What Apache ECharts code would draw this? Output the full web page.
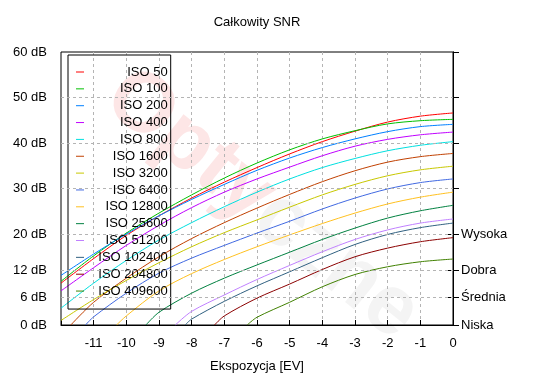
<!DOCTYPE html>
<html><head><meta charset="utf-8">
<script src="https://cdn.jsdelivr.net/npm/echarts@6/dist/echarts.min.js"></script>
<style>html,body{margin:0;padding:0;background:#fff}#c{width:550px;height:380px}</style>
</head><body><div id="c"></div>
<script>
// ---- data (EV, dB) ----
const isoNames = ['ISO 50','ISO 100','ISO 200','ISO 400','ISO 800','ISO 1600','ISO 3200','ISO 6400','ISO 12800','ISO 25600','ISO 51200','ISO 102400','ISO 204800','ISO 409600'];
const isoColors = ['#ff0000','#00c000','#0080ff','#c000ff','#00e0e0','#c04000','#c8c800','#4169e1','#ffc020','#008040','#c080ff','#306080','#8b0000','#408000'];
const iso50     = [[-12,9.2],[-11,14.6],[-10,19.7],[-9,24.0],[-8,27.9],[-7,31.4],[-6,34.6],[-5,37.6],[-4,40.3],[-3,42.6],[-2,44.6],[-1,45.9],[0,46.6]];
const iso100    = [[-12,9.6],[-11,15.2],[-10,20.2],[-9,24.6],[-8,28.6],[-7,32.3],[-6,35.6],[-5,38.5],[-4,40.9],[-3,42.7],[-2,44.2],[-1,44.9],[0,45.2]];
const iso200    = [[-12,10.9],[-11,15.6],[-10,20.0],[-9,24.0],[-8,27.6],[-7,30.9],[-6,34.0],[-5,36.7],[-4,39.0],[-3,40.9],[-2,42.5],[-1,43.6],[0,44.1]];
const iso400    = [[-12,7.5],[-11,12.6],[-10,17.5],[-9,21.9],[-8,25.8],[-7,29.2],[-6,32.1],[-5,34.7],[-4,37.2],[-3,39.3],[-2,40.8],[-1,41.8],[0,42.4]];
const iso800    = [[-12,3.7],[-11,9.2],[-10,14.2],[-9,18.7],[-8,22.5],[-7,26.0],[-6,29.2],[-5,32.1],[-4,34.6],[-3,36.6],[-2,38.3],[-1,39.5],[0,40.3]];
const iso1600   = [[-11.7,0],[-11,5.0],[-10,10.3],[-9,15.0],[-8,19.0],[-7,22.5],[-6,25.7],[-5,28.7],[-4,31.5],[-3,33.9],[-2,35.8],[-1,37.0],[0,37.7]];
const iso3200   = [[-12,1.0],[-11,5.6],[-10,9.8],[-9,13.7],[-8,17.2],[-7,20.3],[-6,23.1],[-5,25.9],[-4,28.6],[-3,30.9],[-2,32.8],[-1,34.1],[0,34.9]];
const iso6400   = [[-11.25,0],[-11,1.8],[-10,7.0],[-9,11.4],[-8,14.7],[-7,17.5],[-6,20.2],[-5,22.8],[-4,25.5],[-3,27.9],[-2,29.9],[-1,31.3],[0,32.1]];
const iso12800  = [[-10.3,0],[-10,2.0],[-9,7.5],[-8,11.3],[-7,14.4],[-6,17.2],[-5,19.8],[-4,22.3],[-3,24.6],[-2,26.6],[-1,28.1],[0,29.2]];
const iso25600  = [[-9.4,0],[-9,2.8],[-8,7.0],[-7,10.3],[-6,13.2],[-5,16.0],[-4,18.8],[-3,21.3],[-2,23.5],[-1,25.1],[0,26.3]];
const iso51200  = [[-8.5,0],[-8,3.0],[-7,6.6],[-6,10.0],[-5,13.1],[-4,16.1],[-3,18.8],[-2,20.9],[-1,22.4],[0,23.3]];
const iso102400 = [[-8.2,0],[-8,1.3],[-7,5.2],[-6,8.6],[-5,11.7],[-4,14.8],[-3,17.7],[-2,19.9],[-1,21.4],[0,22.4]];
const iso204800 = [[-7.3,0],[-7,2.0],[-6,5.9],[-5,9.0],[-4,12.2],[-3,15.0],[-2,16.9],[-1,18.3],[0,19.2]];
const iso409600 = [[-6.3,0],[-6,1.7],[-5,5.0],[-4,8.4],[-3,11.1],[-2,12.8],[-1,13.9],[0,14.5]];
const yTicks = [0,6,12,20,30,40,50,60];
const yGridLines = [6,12,20,30,40,50];
const qualityValues = [0,6,12,20];
const qualityLabels = ['Niska','Średnia','Dobra','Wysoka'];
const titleText = 'Całkowity SNR';
const xName = 'Ekspozycja [EV]';
const watermarkParts = ['Opty','czne'];

const allData = [iso50,iso100,iso200,iso400,iso800,iso1600,iso3200,iso6400,iso12800,iso25600,iso51200,iso102400,iso204800,iso409600];
const FONT = 'Liberation Sans, Arial, sans-serif';

const chart = echarts.init(document.getElementById('c'), null, {renderer:'canvas'});
const series = allData.map((d,i)=>({
  name: isoNames[i], type:'line', data:d, symbol:'none', showSymbol:false,
  smooth:0.3, clip:true, z:3,
  lineStyle:{width:1,color:isoColors[i]}, itemStyle:{color:isoColors[i]}
}));
series.unshift({
  name:'grid', type:'line', data:[], silent:true, z:1,
  markLine:{silent:true, symbol:'none', label:{show:false}, animation:false,
    lineStyle:{color:'#b4b4b4', type:[3,3], width:1},
    data: yGridLines.map(v=>({yAxis:v}))}
});

chart.setOption({
  animation:false,
  backgroundColor:'#fff',
  grid:{left:61,right:97,top:52,bottom:55,show:true,borderColor:'#000',borderWidth:1,backgroundColor:'transparent'},
  graphic:[
    {type:'text', z:-10, x:262, y:205, rotation:-0.68, silent:true,
     style:{text:'{a|'+watermarkParts[0]+'}{b|'+watermarkParts[1]+'}', textAlign:'center', textVerticalAlign:'middle',
       rich:{a:{fontSize:84, fontWeight:'bold', fontFamily:FONT, fill:'#fde6e6', color:'#fde6e6'},
             b:{fontSize:84, fontWeight:'bold', fontFamily:FONT, fill:'#f4f4f4', color:'#f4f4f4'}}}},
    {type:'text', x:257, y:22, style:{text:titleText, font:'13px '+FONT, fill:'#000', textAlign:'center', textVerticalAlign:'middle'}},
    {type:'text', x:257, y:366, style:{text:xName, font:'13px '+FONT, fill:'#000', textAlign:'center', textVerticalAlign:'middle'}}
  ],
  legend:{
    data: isoNames, orient:'vertical', left:68, top:55, padding:[10,3,11,8],
    itemGap:2.85, itemWidth:8, itemHeight:14,
    icon:'path://M0,0M0,6.5L8,6.5L8,7.5L0,7.5ZM8,14',
    borderColor:'#000', borderWidth:1, backgroundColor:'transparent',
    selectedMode:false,
    formatter: n => '{r|'+n+'}',
    textStyle:{fontSize:13, fontFamily:FONT, color:'#000',
      rich:{r:{width:78.7, align:'right', fontSize:13, lineHeight:14, fontFamily:FONT, color:'#000'}}}
  },
  xAxis:{
    type:'value', min:-12, max:0, interval:1,
    axisLine:{show:true, lineStyle:{color:'#000'}},
    axisTick:{show:true, inside:true, length:5, lineStyle:{color:'#000'}},
    axisLabel:{margin:12, fontSize:13, fontFamily:FONT, color:'#000',
      formatter: v => v === -12 ? '' : String(v)},
    splitLine:{show:true, showMinLine:false, showMaxLine:false, lineStyle:{color:'#b4b4b4', type:[3,3], width:1}}
  },
  yAxis:[
    {type:'value', min:0, max:60, position:'left',
     axisLine:{show:true, lineStyle:{color:'#000'}},
     axisTick:{show:true, inside:true, length:6, customValues:yTicks, lineStyle:{color:'#000'}},
     axisLabel:{margin:14, fontSize:13, fontFamily:FONT, color:'#000', customValues:yTicks, formatter: v => v + ' dB'},
     splitLine:{show:false}},
    {type:'value', min:0, max:60, position:'right',
     axisLine:{show:true, lineStyle:{color:'#000'}},
     axisTick:{show:true, inside:true, length:6, customValues:qualityValues, lineStyle:{color:'#000'}},
     axisLabel:{margin:8, fontSize:13, fontFamily:FONT, color:'#000', customValues:qualityValues,
       formatter: v => qualityLabels[qualityValues.indexOf(v)]},
     splitLine:{show:false}}
  ],
  series: series
});
</script></body></html>
